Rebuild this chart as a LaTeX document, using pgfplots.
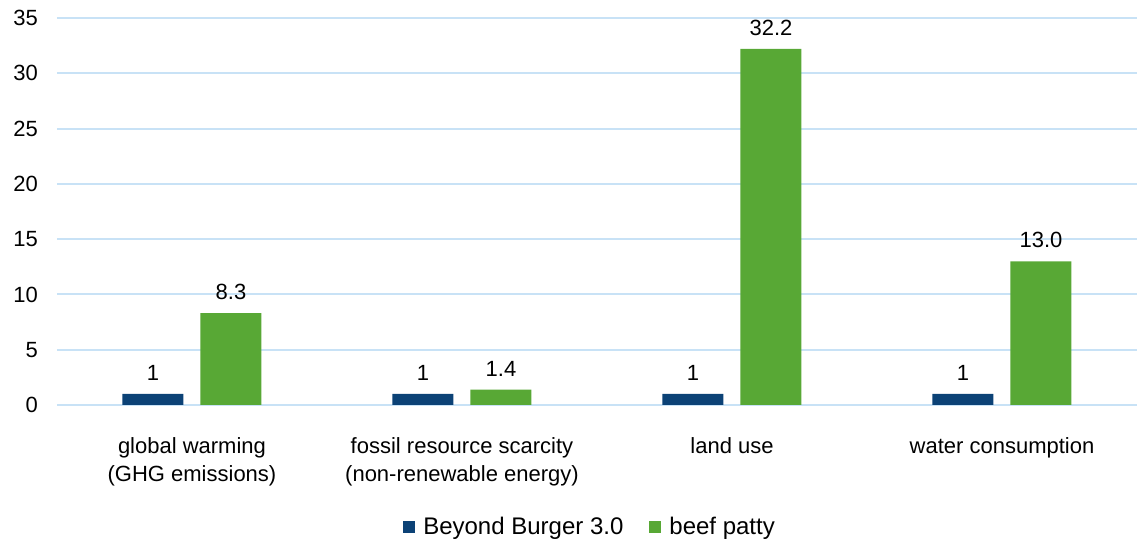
\documentclass[border=0pt]{standalone}
\usepackage{fontspec}
\setmainfont{Liberation Sans}
\usepackage{pgfplots}
\pgfplotsset{compat=1.18}
\definecolor{bbblue}{RGB}{12,66,118}
\definecolor{beefgreen}{RGB}{88,168,53}
\definecolor{gridblue}{RGB}{200,226,246}
\begin{document}
\begin{tikzpicture}
\useasboundingbox (-28.5pt,-67.5pt) rectangle (540pt,202.5pt);
\begin{axis}[
  at={(0pt,0pt)}, anchor=south west,
  scale only axis, width=540pt, height=193.5pt,
  ymin=0, ymax=35, ytick={0,5,...,35},
  xmin=-0.5, xmax=3.5,
  xtick={0,1,2,3},
  xticklabels={{global warming\\(GHG emissions)},{fossil resource scarcity\\(non-renewable energy)},{land use},{water consumption}},
  ybar=8.5pt, bar width=30.5pt,
  axis line style={draw=none},
  major tick length=0pt,
  ymajorgrids, grid style={gridblue, line width=1pt},
  font=\fontsize{11pt}{13.5pt}\selectfont,
  /pgf/number format/assume math mode=true,
  xticklabel style={align=center, yshift=-12.5pt, font=\fontsize{11pt}{14pt}\selectfont},
  yticklabel style={xshift=-6pt},
  nodes near coords,
  nodes near coords style={font=\fontsize{11pt}{13pt}\selectfont, black, yshift=3pt},
  legend columns=2,
  legend style={draw=none, at={(0.4945,-0.315)}, anchor=center, font=\fontsize{12pt}{14pt}\selectfont, /tikz/every even column/.append style={column sep=11pt}},
  legend image code/.code={\fill[#1] (-3pt,-3pt) rectangle (3pt,3pt);},
]
\addplot[fill=bbblue, draw=none, nodes near coords={\pgfmathprintnumber[fixed,precision=0]{\pgfplotspointmeta}}] coordinates {(0,1) (1,1) (2,1) (3,1)};
\addplot[fill=beefgreen, draw=none, nodes near coords={\pgfmathprintnumber[fixed,fixed zerofill,precision=1]{\pgfplotspointmeta}}] coordinates {(0,8.3) (1,1.4) (2,32.2) (3,13.0)};
\legend{\hspace*{2pt}Beyond Burger 3.0, \hspace*{2pt}beef patty}
\end{axis}
\end{tikzpicture}
\end{document}
